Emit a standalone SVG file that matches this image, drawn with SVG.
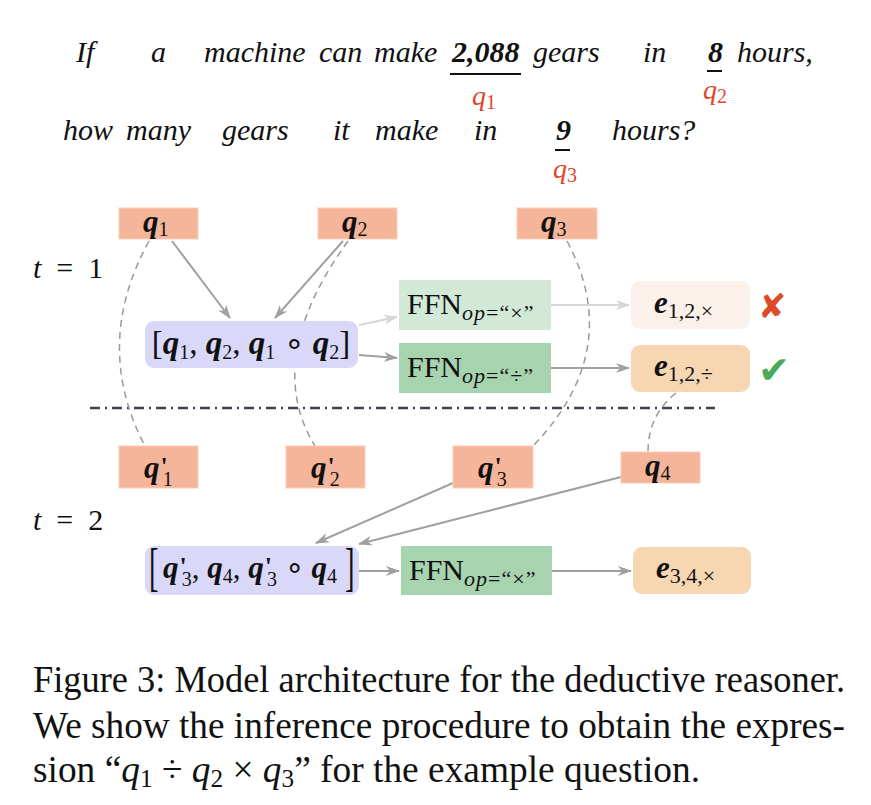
<svg xmlns="http://www.w3.org/2000/svg" width="871" height="805" viewBox="0 0 871 805">
<style>
.sent{font-family:"Liberation Serif",serif;font-style:italic;font-size:30px;fill:#111}
.bi{font-weight:bold}
.red{font-family:"Liberation Serif",serif;font-style:italic;font-size:28px;fill:#e0462b}
.sub{font-style:normal;font-weight:normal;font-size:20px}
.ul{stroke:#111;stroke-width:2}
.qbox{fill:#f4b59b;stroke:#f9cbb7;stroke-width:1}
.pbox{fill:#d9d8f9}
.mq{font-family:"Liberation Serif",serif;font-size:31px;fill:#111}
.big{font-size:33px}
.q{font-weight:bold;font-style:italic}
.pr{font-weight:bold;font-style:normal;font-size:26px}
.ffn{font-family:"Liberation Serif",serif;font-size:30px;fill:#111}
.fs{font-size:22px;letter-spacing:1px}
.es{font-style:normal;font-weight:normal;font-size:22px}
.it{font-style:italic}
.conn{fill:none;stroke:#a0a0a0;stroke-width:2}
.lt{stroke:#d6d6d6}
.dash{fill:none;stroke:#9a9a9a;stroke-width:1.5;stroke-dasharray:7 5}
.cap{font-family:"Liberation Serif",serif;font-size:37px;fill:#111}
.lab{font-family:"Liberation Serif",serif;font-size:30px;fill:#111}
</style>
<defs>
<marker id="ah" viewBox="0 0 14 10" refX="13" refY="5" markerWidth="14" markerHeight="10" markerUnits="userSpaceOnUse" orient="auto"><path d="M0,0 L14,5 L0,10 L4,5 z" fill="#a0a0a0"/></marker>
<marker id="ahl" viewBox="0 0 14 10" refX="13" refY="5" markerWidth="14" markerHeight="10" markerUnits="userSpaceOnUse" orient="auto"><path d="M0,0 L14,5 L0,10 L4,5 z" fill="#d6d6d6"/></marker>
</defs>

<g id="sentence">
<text class="sent" x="76" y="62">If</text>
<text class="sent" x="151" y="62">a</text>
<text class="sent" x="204" y="62">machine</text>
<text class="sent" x="319" y="62">can</text>
<text class="sent" x="374" y="62">make</text>
<text class="sent bi" x="452" y="62">2,088</text>
<text class="sent" x="533" y="62">gears</text>
<text class="sent" x="643" y="62">in</text>
<text class="sent bi" x="708" y="62">8</text>
<text class="sent" x="737" y="62">hours,</text>
<line class="ul" x1="450" y1="74" x2="521" y2="74"/>
<line class="ul" x1="707" y1="71" x2="722" y2="71"/>
<text class="red" x="472" y="105">q<tspan class="sub" dy="4">1</tspan></text>
<text class="red" x="703" y="99">q<tspan class="sub" dy="4">2</tspan></text>
<text class="sent" x="63" y="140">how</text>
<text class="sent" x="126" y="140">many</text>
<text class="sent" x="222" y="140">gears</text>
<text class="sent" x="333" y="140">it</text>
<text class="sent" x="375" y="140">make</text>
<text class="sent" x="474" y="140">in</text>
<text class="sent bi" x="556" y="140">9</text>
<text class="sent" x="612" y="140">hours?</text>
<line class="ul" x1="555" y1="150" x2="570" y2="150"/>
<text class="red" x="553" y="178">q<tspan class="sub" dy="4">3</tspan></text>
</g>

<text class="lab" x="33" y="278" xml:space="preserve"><tspan class="it">t</tspan>  =  1</text>
<text class="lab" x="33" y="530" xml:space="preserve"><tspan class="it">t</tspan>  =  2</text>

<line x1="90" y1="408" x2="715" y2="408" stroke="#3c4452" stroke-width="2.5" stroke-dasharray="10 5 2 5"/>

<g id="connectors">
<path class="dash" d="M149,241 Q92,345 145,446"/>
<path class="dash" d="M348,241 Q262,360 315,446"/>
<path class="dash" d="M567,241 Q625,350 533,446"/>
<path class="dash" d="M676,393 Q648,415 648,452"/>
<line class="conn" x1="172" y1="241" x2="230" y2="318" marker-end="url(#ah)"/>
<line class="conn" x1="343" y1="241" x2="275" y2="318" marker-end="url(#ah)"/>
<line class="conn lt" x1="359" y1="325" x2="397" y2="317" marker-end="url(#ahl)"/>
<line class="conn" x1="359" y1="355" x2="397" y2="358" marker-end="url(#ah)"/>
<line class="conn lt" x1="551" y1="305" x2="629" y2="305" marker-end="url(#ahl)"/>
<line class="conn" x1="551" y1="368" x2="629" y2="368" marker-end="url(#ah)"/>
<line class="conn" x1="453" y1="483" x2="316" y2="543" marker-end="url(#ah)"/>
<line class="conn" x1="621" y1="477" x2="359" y2="544" marker-end="url(#ah)"/>
<line class="conn" x1="359" y1="571" x2="399" y2="571" marker-end="url(#ah)"/>
<line class="conn" x1="552" y1="571" x2="631" y2="571" marker-end="url(#ah)"/>
</g>

<g id="q1">
<rect class="qbox" x="119" y="208" width="79" height="31"/>
<text class="mq" x="143" y="232"><tspan class="q">q</tspan><tspan class="sub" dy="4">1</tspan></text>
</g>
<g id="q2">
<rect class="qbox" x="318" y="208" width="79" height="31"/>
<text class="mq" x="342" y="232"><tspan class="q">q</tspan><tspan class="sub" dy="4">2</tspan></text>
</g>
<g id="q3">
<rect class="qbox" x="517" y="208" width="80" height="31"/>
<text class="mq" x="541" y="232"><tspan class="q">q</tspan><tspan class="sub" dy="4">3</tspan></text>
</g>

<g id="pair1">
<rect class="pbox" x="145" y="321" width="213" height="47" rx="9"/>
<text class="mq big" x="251" y="354" text-anchor="middle"><tspan>[</tspan><tspan class="q">q</tspan><tspan class="sub" dy="5">1</tspan><tspan dy="-5">, </tspan><tspan class="q">q</tspan><tspan class="sub" dy="5">2</tspan><tspan dy="-5">, </tspan><tspan class="q">q</tspan><tspan class="sub" dy="5">1</tspan><tspan dy="-5"> ∘ </tspan><tspan class="q">q</tspan><tspan class="sub" dy="5">2</tspan><tspan dy="-5">]</tspan></text>
</g>

<g id="ffn_mul1">
<rect x="399" y="280" width="152" height="50" fill="#d3e9d7"/>
<text class="ffn" x="407" y="314">FFN<tspan class="fs" dy="6"><tspan class="it">op</tspan>=“×”</tspan></text>
</g>
<g id="ffn_div1">
<rect x="399" y="343" width="152" height="50" fill="#a7d3af"/>
<text class="ffn" x="407" y="377">FFN<tspan class="fs" dy="6"><tspan class="it">op</tspan>=“÷”</tspan></text>
</g>

<g id="e12mul">
<rect x="631" y="281" width="119" height="48" rx="9" fill="#fcf1ea"/>
<text class="mq" x="654" y="313"><tspan class="q">e</tspan><tspan class="es" dy="5">1,2,×</tspan></text>
</g>
<g id="e12div">
<rect x="631" y="345" width="119" height="47" rx="9" fill="#f7d6b2"/>
<text class="mq" x="654" y="376"><tspan class="q">e</tspan><tspan class="es" dy="5">1,2,÷</tspan></text>
</g>
<text x="758" y="318" font-family="DejaVu Sans,sans-serif" font-size="34" fill="#dc4a2a">✘</text>
<text x="758" y="383" font-family="DejaVu Sans,sans-serif" font-size="38" fill="#4aa95a">✔</text>

<g id="q1p">
<rect class="qbox" x="119" y="446" width="79" height="42"/>
<text class="mq" x="144" y="478"><tspan class="q">q</tspan><tspan class="pr" dx="1" dy="-3">'</tspan><tspan class="sub" dx="-5" dy="11">1</tspan></text>
</g>
<g id="q2p">
<rect class="qbox" x="286" y="446" width="79" height="42"/>
<text class="mq" x="311" y="478"><tspan class="q">q</tspan><tspan class="pr" dx="1" dy="-3">'</tspan><tspan class="sub" dx="-5" dy="11">2</tspan></text>
</g>
<g id="q3p">
<rect class="qbox" x="453" y="446" width="80" height="42"/>
<text class="mq" x="478" y="478"><tspan class="q">q</tspan><tspan class="pr" dx="1" dy="-3">'</tspan><tspan class="sub" dx="-5" dy="11">3</tspan></text>
</g>
<g id="q4">
<rect class="qbox" x="621" y="452" width="79" height="31"/>
<text class="mq" x="645" y="476"><tspan class="q">q</tspan><tspan class="sub" dy="4">4</tspan></text>
</g>

<g id="pair2">
<rect class="pbox" x="145" y="546" width="214" height="49" rx="9"/>
<text class="mq" x="149" y="585" style="font-size:52px" transform="translate(149 0) scale(0.55 1) translate(-149 0)">[</text>
<text class="mq" x="345" y="585" style="font-size:52px" transform="translate(345 0) scale(0.55 1) translate(-345 0)">]</text>
<text class="mq" x="163" y="578"><tspan class="q">q</tspan><tspan class="pr" dx="1" dy="-3">'</tspan><tspan class="sub" dx="-5" dy="11">3</tspan><tspan dy="-8">, </tspan><tspan class="q">q</tspan><tspan class="sub" dy="5">4</tspan><tspan dy="-5">, </tspan><tspan class="q">q</tspan><tspan class="pr" dx="1" dy="-3">'</tspan><tspan class="sub" dx="-5" dy="11">3</tspan><tspan dy="-8"> ∘ </tspan><tspan class="q">q</tspan><tspan class="sub" dy="5">4</tspan></text>
</g>

<g id="ffn_mul2">
<rect x="401" y="546" width="151" height="49" fill="#a7d3af"/>
<text class="ffn" x="409" y="580">FFN<tspan class="fs" dy="6"><tspan class="it">op</tspan>=“×”</tspan></text>
</g>
<g id="e34mul">
<rect x="633" y="547" width="118" height="47" rx="9" fill="#f7d6b2"/>
<text class="mq" x="656" y="578"><tspan class="q">e</tspan><tspan class="es" dy="5">3,4,×</tspan></text>
</g>

<g id="caption">
<text class="cap" x="33" y="692" textLength="812" lengthAdjust="spacingAndGlyphs">Figure 3: Model architecture for the deductive reasoner.</text>
<text class="cap" x="33" y="738" textLength="812" lengthAdjust="spacingAndGlyphs">We show the inference procedure to obtain the expres-</text>
<text class="cap" x="33" y="782" textLength="667" lengthAdjust="spacingAndGlyphs">sion “<tspan class="it">q</tspan><tspan font-size="25" dy="5">1</tspan><tspan dy="-5"> ÷ </tspan><tspan class="it">q</tspan><tspan font-size="25" dy="5">2</tspan><tspan dy="-5"> × </tspan><tspan class="it">q</tspan><tspan font-size="25" dy="5">3</tspan><tspan dy="-5">” for the example question.</tspan></text>
</g>
</svg>
